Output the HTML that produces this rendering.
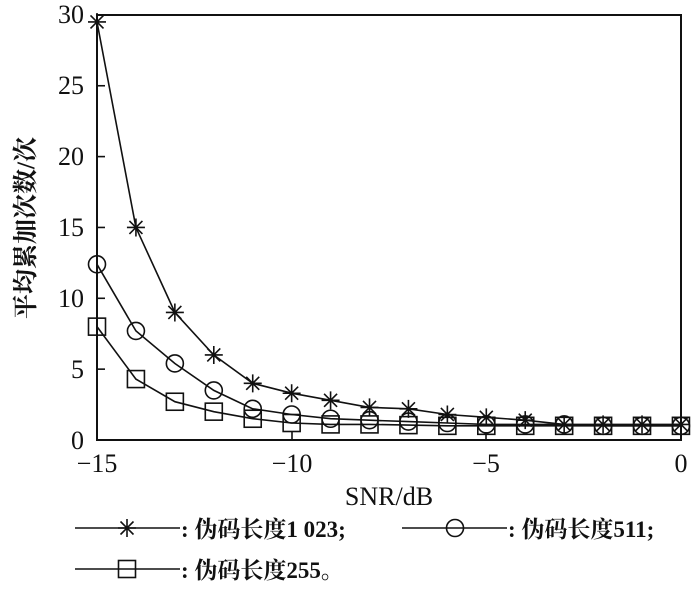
<!DOCTYPE html>
<html><head><meta charset="utf-8"><style>
body{margin:0;background:#fff;}
svg text{font-family:"Liberation Serif","Noto Serif CJK SC",serif;fill:#111;}
</style></head><body>
<svg id="s" width="700" height="589" xmlns="http://www.w3.org/2000/svg">
<rect x="97" y="15" width="584" height="425" fill="none" stroke="#111" stroke-width="2"/>
<g font-size="26" text-anchor="end">
<text x="84" y="449">0</text><text x="84" y="378">5</text><text x="84" y="307">10</text>
<text x="84" y="236">15</text><text x="84" y="165">20</text><text x="84" y="94">25</text><text x="84" y="23">30</text>
</g>
<g font-size="26" text-anchor="middle">
<text x="97" y="472">−15</text><text x="292" y="472">−10</text><text x="486" y="472">−5</text><text x="681" y="472">0</text>
<text x="389" y="505">SNR/dB</text>
</g>
<text transform="translate(34,228) rotate(-90)" font-size="25" font-weight="bold" text-anchor="middle">平均累加次数/次</text>
<g id="g" stroke="#111" fill="none" stroke-width="1.6"></g>
<g font-size="23" font-weight="bold">
<text x="181" y="537">: 伪码长度1 023;</text>
<text x="508" y="537">: 伪码长度511;</text>
<text x="181" y="578">: 伪码长度255。</text>
</g>
</svg>
<script>
const g=document.getElementById('g');
const X=v=>97+(v+15)*38.93, Y=v=>440-v*14.17;
const S=[29.5,15,9,6,4,3.3,2.8,2.3,2.2,1.8,1.6,1.4,1.1,1.1,1.1,1.1];
const C=[12.4,7.7,5.4,3.5,2.2,1.8,1.5,1.4,1.3,1.2,1.1,1.1,1.1,1,1,1];
const Q=[8,4.3,2.7,2.0,1.5,1.2,1.1,1.1,1.05,1,1,1,1,1,1,1];
let h='';
function star(x,y){let r=9;return `<path d="M${x-r},${y}H${x+r}M${x},${y-r}V${y+r}M${x-6.5},${y-6.5}L${x+6.5},${y+6.5}M${x-6.5},${y+6.5}L${x+6.5},${y-6.5}"/>`;}
function circ(x,y){return `<circle cx="${x}" cy="${y}" r="8.5"/>`;}
function sq(x,y){return `<rect x="${x-8.5}" y="${y-8.5}" width="17" height="17"/>`;}
[[S,star],[C,circ],[Q,sq]].forEach(([d,m])=>{
  let p='';d.forEach((v,i)=>{p+=(i?'L':'M')+X(i-15).toFixed(1)+','+Y(v).toFixed(1);});
  h+=`<path d="${p}"/>`;d.forEach((v,i)=>h+=m(X(i-15),Y(v)));
});
[292,486].forEach(x=>h+=`<path d="M${x},440V432"/>`);
for(let v=5;v<30;v+=5)h+=`<path d="M97,${Y(v)}H105"/>`;
h+=`<path d="M75,528H180"/>`+star(127,528);
h+=`<path d="M402,528H507"/>`+circ(455,528);
h+=`<path d="M75,569H180"/>`+sq(127,569);
g.innerHTML=h;
</script>
</body></html>
